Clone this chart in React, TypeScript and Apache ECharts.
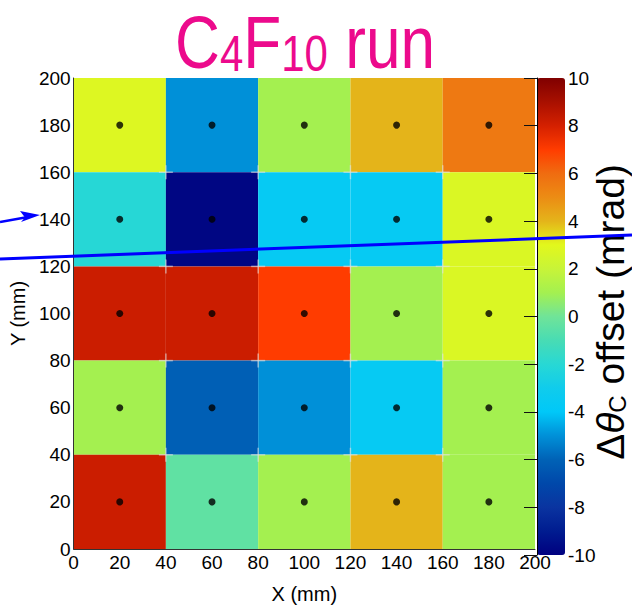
import React, { useEffect, useRef } from "react";
import * as echarts from "echarts";

// Cell centres (mm)
const xCenters = [20, 60, 100, 140, 180];
const yCenters = [180, 140, 100, 60, 20];
const cellSize = 40;
// Interior cell corners, marked with faint crosses
const cellEdges = [40, 80, 120, 160];

// Δθ_C offset (mrad) per cell, rows from Y=180 (top) down to Y=20
const offsetRows = [
  [2.8, -5.0, 1.0, 4.0, 5.6],
  [-2.1, -9.8, -3.6, -3.6, 2.7],
  [8.2, 8.2, 7.0, 1.0, 2.7],
  [1.0, -6.1, -5.0, -3.6, 1.0],
  [8.2, -0.4, 1.0, 4.0, 1.0],
];

const scaleMin = -10;
const scaleMax = 10;
// Palette, one stop per mrad from -10 to +10
const palette = [
  "#000080", "#001c90", "#0a34a0", "#0048aa", "#0062b6", "#0090d8",
  "#00c8f8", "#10ccec", "#28d8d4", "#48dcb4", "#70e498", "#a4f050",
  "#c8f438", "#e2f81c", "#e4b41a", "#ec8c14", "#f06c10", "#ff3c00",
  "#d42000", "#a81000", "#800000",
];

const FONT = "'Liberation Sans', Arial, sans-serif";
const MAGENTA = "#ec0a8c";

export default function App() {
  const ref = useRef<HTMLDivElement>(null);

  useEffect(() => {
    if (!ref.current) return;
    const chart = echarts.init(ref.current, null, { renderer: "svg" });

    const cells: number[][] = [];
    yCenters.forEach((y, r) => {
      xCenters.forEach((x, c) => {
        cells.push([x, y, offsetRows[r][c]]);
      });
    });
    const dots = cells.map((d) => [d[0], d[1]]);
    const corners: number[][] = [];
    cellEdges.forEach((x) => cellEdges.forEach((y) => corners.push([x, y])));

    const half = cellSize / 2;

    chart.setOption({
      animation: false,
      grid: [
        { left: 73, top: 78, width: 462, height: 477 },
        { left: 537, top: 78, width: 28, height: 477 },
      ],
      xAxis: [
        {
          gridIndex: 0,
          type: "value",
          min: 0,
          max: 200,
          interval: 20,
          axisLine: { show: true, lineStyle: { color: "#333", width: 1 } },
          axisTick: { show: false },
          splitLine: { show: false },
          axisLabel: { fontSize: 19, color: "#000", margin: 4, fontFamily: FONT },
          name: "X (mm)",
          nameLocation: "middle",
          nameGap: 35,
          nameTextStyle: { fontSize: 20, color: "#000", fontFamily: FONT },
        },
        { gridIndex: 1, type: "value", min: 0, max: 1, show: false },
      ],
      yAxis: [
        {
          gridIndex: 0,
          type: "value",
          min: 0,
          max: 200,
          interval: 20,
          z: 5,
          axisLine: { show: true, lineStyle: { color: "#333", width: 1 } },
          axisTick: { show: false },
          splitLine: { show: false },
          axisLabel: { fontSize: 19, color: "#000", margin: 3, fontFamily: FONT },
          name: "Y (mm)",
          nameLocation: "middle",
          nameGap: 44,
          nameTextStyle: { fontSize: 20, color: "#000", fontFamily: FONT },
        },
        {
          gridIndex: 1,
          type: "value",
          min: scaleMin,
          max: scaleMax,
          interval: 2,
          position: "right",
          z: 10,
          axisLine: { show: true, lineStyle: { color: "#000", width: 1 } },
          axisTick: { show: true, inside: true, length: 13, lineStyle: { color: "#111", width: 1 } },
          splitLine: { show: false },
          axisLabel: { fontSize: 19, color: "#000", margin: 3, fontFamily: FONT },
        },
      ],
      visualMap: {
        type: "continuous",
        min: scaleMin,
        max: scaleMax,
        dimension: 2,
        seriesIndex: 0,
        inRange: { color: palette },
        calculable: false,
        realtime: false,
        show: true,
        left: 537,
        top: 78,
        itemWidth: 28,
        itemHeight: 477,
        padding: 0,
        z: 1,
      },
      series: [
        {
          type: "custom",
          xAxisIndex: 0,
          yAxisIndex: 0,
          data: cells,
          encode: { x: 0, y: 1 },
          renderItem: (params: any, api: any) => {
            const x = api.value(0);
            const y = api.value(1);
            const p1 = api.coord([x - half, y + half]);
            const p2 = api.coord([x + half, y - half]);
            return {
              type: "rect",
              shape: { x: p1[0], y: p1[1], width: p2[0] - p1[0], height: p2[1] - p1[1] },
              style: { fill: api.visual("color"), stroke: null },
            };
          },
          z: 2,
        },
        {
          type: "custom",
          xAxisIndex: 0,
          yAxisIndex: 0,
          data: corners,
          encode: { x: 0, y: 1 },
          silent: true,
          renderItem: (params: any, api: any) => {
            const p = api.coord([api.value(0), api.value(1)]);
            const a = 7;
            const st = { stroke: "rgba(225,225,225,0.6)", lineWidth: 1.5 };
            return {
              type: "group",
              children: [
                { type: "line", shape: { x1: p[0] - a, y1: p[1], x2: p[0] + a, y2: p[1] }, style: st },
                { type: "line", shape: { x1: p[0], y1: p[1] - a, x2: p[0], y2: p[1] + a }, style: st },
              ],
            };
          },
          z: 3,
        },
        {
          type: "scatter",
          xAxisIndex: 0,
          yAxisIndex: 0,
          data: dots,
          symbol: "circle",
          symbolSize: 7,
          itemStyle: { color: "#000" },
          z: 4,
        },
      ],
      graphic: [
        {
          type: "text",
          x: 305,
          y: 5,
          scaleX: 0.84,
          style: {
            text: "{m|C}{s|4}{m|F}{s|10}{m| run}",
            fill: MAGENTA,
            align: "center",
            verticalAlign: "top",
            rich: {
              m: { fontSize: 74, lineHeight: 74, fontFamily: FONT, fill: MAGENTA },
              s: { fontSize: 50, lineHeight: 38, verticalAlign: "bottom", fontFamily: FONT, fill: MAGENTA },
            },
          },
          z: 20,
        },
        {
          type: "text",
          x: 610,
          y: 312,
          rotation: Math.PI / 2,
          style: {
            text: "{m|Δ}{g|θ}{s|C}{m| offset (mrad)}",
            fill: "#000",
            align: "center",
            verticalAlign: "middle",
            rich: {
              m: { fontSize: 39, lineHeight: 38, fontFamily: FONT, fill: "#000" },
              g: { fontSize: 39, lineHeight: 38, fontFamily: FONT, fontStyle: "italic", fill: "#000" },
              s: { fontSize: 24, lineHeight: 22, verticalAlign: "bottom", fontFamily: FONT, fill: "#000" },
            },
          },
          z: 20,
        },
        {
          type: "line",
          shape: { x1: 0, y1: 259, x2: 632, y2: 235 },
          style: { stroke: "#0000ff", lineWidth: 3 },
          z: 50,
        },
        {
          type: "line",
          shape: { x1: 0, y1: 222, x2: 28, y2: 217 },
          style: { stroke: "#0000ff", lineWidth: 2.5 },
          z: 50,
        },
        {
          type: "polygon",
          shape: { points: [[40, 215], [20, 211], [25, 217.5], [21, 222]] },
          style: { fill: "#0000ff" },
          z: 50,
        },
      ],
    });

    return () => chart.dispose();
  }, []);

  return (
    <div
      ref={ref}
      style={{ position: "fixed", left: 0, top: 0, width: 632, height: 609, background: "#fff" }}
    />
  );
}
